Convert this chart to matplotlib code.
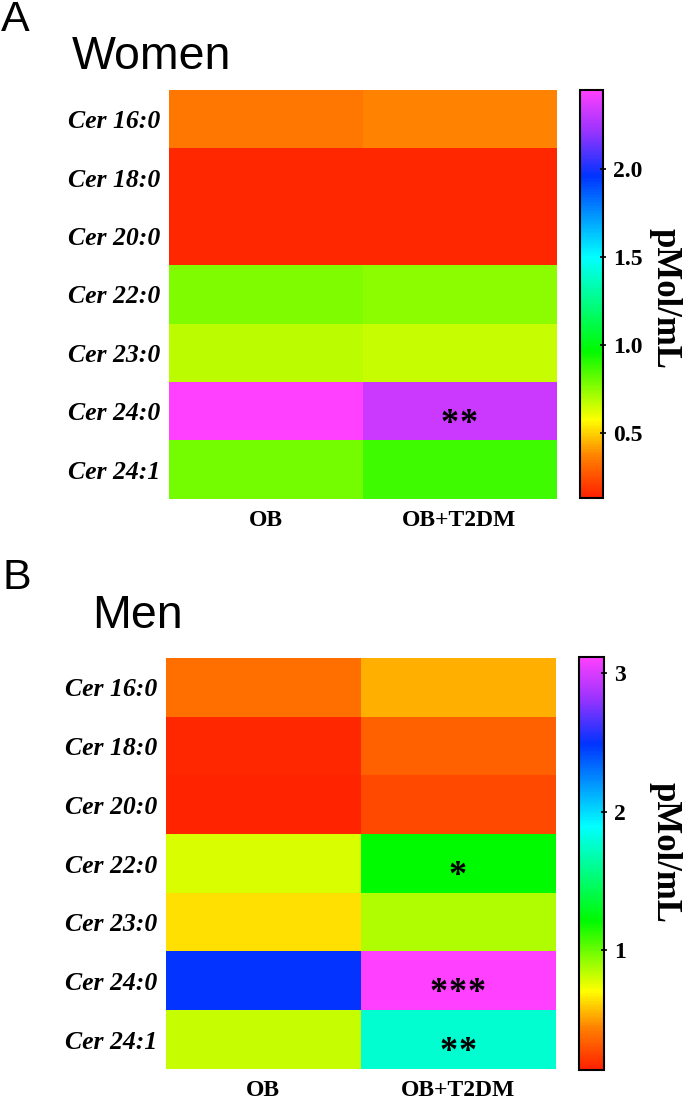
import numpy as np
import matplotlib.pyplot as plt
from matplotlib.colors import LinearSegmentedColormap

lipids = ['Cer 16:0', 'Cer 18:0', 'Cer 20:0', 'Cer 22:0', 'Cer 23:0', 'Cer 24:0', 'Cer 24:1']
groups = ['OB', 'OB+T2DM']

# pMol/mL, columns: OB, OB+T2DM
women_ob = [0.34, 0.15, 0.15, 0.77, 0.68, 2.45, 0.79]
women_t2dm = [0.37, 0.15, 0.15, 0.75, 0.66, 2.33, 0.87]
women_sig = [0, 0, 0, 0, 0, 2, 0]   # number of asterisks in OB+T2DM column
women_range = (0.13, 2.45)
women_ticks = [0.5, 1.0, 1.5, 2.0]

men_ob = [0.38, 0.16, 0.15, 0.78, 0.64, 2.49, 0.81]
men_t2dm = [0.53, 0.34, 0.27, 1.21, 0.86, 3.12, 1.77]
men_sig = [0, 0, 0, 1, 0, 3, 2]
men_range = (0.13, 3.12)
men_ticks = [1, 2, 3]

# rainbow map as used by the original software (red low -> magenta high)
cmap = LinearSegmentedColormap.from_list('rb', [
    (0.0, '#ff2000'), (0.10, '#ff8000'), (0.19, '#ffff00'),
    (0.36, '#00fa00'), (0.59, '#00ffff'), (0.79, '#0033ff'),
    (0.90, '#9933ff'), (1.0, '#ff40ff')])

serif = 'Liberation Serif'
sans = 'Liberation Sans'

fig = plt.figure(figsize=(6.89, 11), dpi=100)


def panel(rect, cbrect, ob, t2dm, sig, vrange, ticks, fmt):
    ax = fig.add_axes(rect)
    data = np.column_stack([ob, t2dm])
    im = ax.imshow(data, cmap=cmap, vmin=vrange[0], vmax=vrange[1],
                   aspect='auto', interpolation='nearest')
    ax.set_yticks(range(len(lipids)))
    ax.set_yticklabels(lipids, family=serif, fontweight='bold', style='italic', fontsize=18.5)
    ax.set_xticks(range(len(groups)))
    ax.set_xticklabels(groups, family=serif, fontweight='bold', fontsize=17)
    ax.tick_params(length=0, pad=6)
    ax.tick_params(axis='x', pad=8)
    for s in ax.spines.values():
        s.set_visible(False)
    # significance stars, spaced a little apart like the original
    for i, n in enumerate(sig):
        for k in range(n):
            ax.text(1 + (k - (n - 1) / 2) * 0.098, i + 0.15, '*', ha='center',
                    va='center_baseline', family=serif, fontweight='bold', fontsize=26)
    cax = fig.add_axes(cbrect)
    cb = fig.colorbar(im, cax=cax, ticks=ticks)
    cb.ax.set_yticklabels([fmt.format(t) for t in ticks], family=serif,
                          fontweight='bold', fontsize=17)
    cb.ax.tick_params(length=4, width=1.2, direction='inout', pad=5)
    cb.outline.set_linewidth(1.5)
    return ax


panel([0.2453, 0.5464, 0.5617, 0.3718], [0.8418, 0.5473, 0.0334, 0.3709],
      women_ob, women_t2dm, women_sig, women_range, women_ticks, '{:.1f}')
panel([0.2409, 0.0282, 0.5646, 0.3736], [0.8403, 0.0273, 0.0363, 0.3755],
      men_ob, men_t2dm, men_sig, men_range, men_ticks, '{:d}')

fig.text(665 / 689, 1 - 298 / 1100, 'pMol/mL', rotation=270, ha='center', va='center',
         family=serif, fontweight='bold', fontsize=25)
fig.text(665 / 689, 1 - 852 / 1100, 'pMol/mL', rotation=270, ha='center', va='center',
         family=serif, fontweight='bold', fontsize=25)

fig.text(1 / 689, 1 - 20 / 1100, 'A', ha='left', va='center', family=sans, fontsize=31)
fig.text(72 / 689, 1 - 57 / 1100, 'Women', ha='left', va='center', family=sans, fontsize=33.5)
fig.text(2 / 689, 1 - 578 / 1100, 'B', ha='left', va='center', family=sans, fontsize=31)
fig.text(92 / 689, 1 - 616 / 1100, 'Men', ha='left', va='center', family=sans, fontsize=33.5)

fig.savefig('out.png', dpi=100)
